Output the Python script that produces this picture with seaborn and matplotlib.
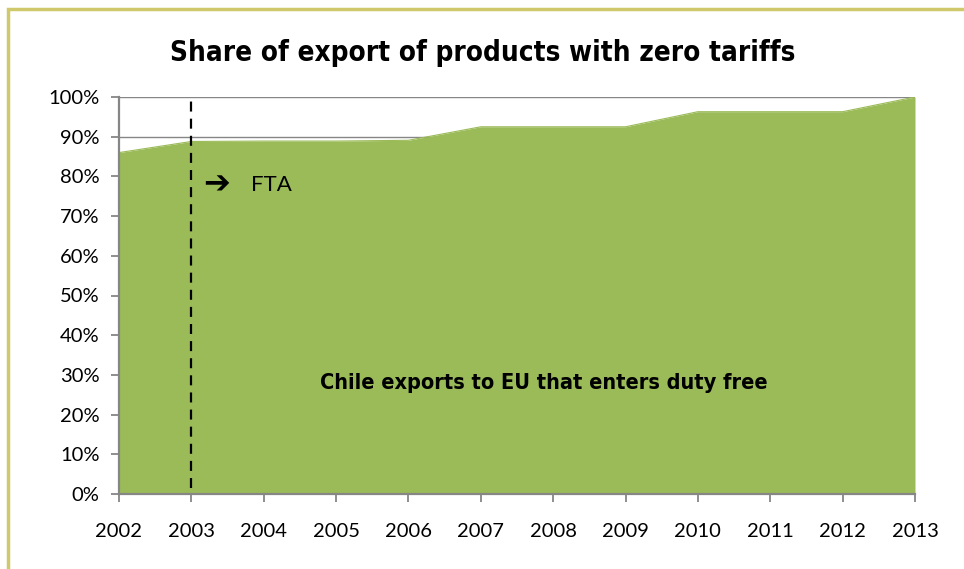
import matplotlib
matplotlib.use("Agg")
import matplotlib.pyplot as plt
import matplotlib.patches as mpatches
import seaborn as sns
import pandas as pd

# Share of Chilean exports to the EU entering with zero tariffs
years = [2002, 2003, 2004, 2005, 2006, 2007, 2008, 2009, 2010, 2011, 2012, 2013]
share = [0.860, 0.888, 0.889, 0.889, 0.891, 0.925, 0.925, 0.925, 0.963, 0.963, 0.963, 1.000]
y_ticks = [0.0, 0.1, 0.2, 0.3, 0.4, 0.5, 0.6, 0.7, 0.8, 0.9, 1.0]
y_labels = ["0%", "10%", "20%", "30%", "40%", "50%", "60%", "70%", "80%", "90%", "100%"]
fta_year = 2003

title = "Share of export of products with zero tariffs"
area_label = "Chile exports to EU that enters duty free"
fta_label = "FTA"

df = pd.DataFrame({"year": years, "share": share})

sns.set_theme(style="white")
plt.rcParams["font.family"] = ["Lato", "DejaVu Sans"]

GREEN = "#9bbb59"
GRID = "#868686"

fig = plt.figure(figsize=(9.64, 5.69), dpi=100)
ax = fig.add_axes([119 / 964, 1 - 494 / 569, (915 - 119) / 964, (494 - 97) / 569])

# gridlines sit behind the filled area
for t in y_ticks:
    ax.axhline(t, color=GRID, lw=1.0, zorder=0)

sns.lineplot(data=df, x="year", y="share", ax=ax, color=GREEN, lw=0.8, zorder=2)
ax.fill_between(df["year"], 0, df["share"], color=GREEN, lw=0, zorder=2)

ax.axvline(fta_year, ymin=0.015, ymax=0.993, color="black", lw=1.6,
           ls=(0, (4.5, 3.2)), zorder=3)

ax.set_xlim(years[0], years[-1])
ax.set_ylim(0, 1.0)
ax.set_xticks(years)
ax.set_xticklabels([str(y) for y in years])
ax.set_yticks(y_ticks)
ax.set_yticklabels(y_labels)
ax.set_xlabel("")
ax.set_ylabel("")

for s in ["top", "right"]:
    ax.spines[s].set_visible(False)
for s in ["left", "bottom"]:
    ax.spines[s].set_color(GRID)
    ax.spines[s].set_linewidth(1.6)
    ax.spines[s].set_zorder(4)

ax.tick_params(axis="y", which="major", direction="out", length=6, width=1.3,
               color=GRID, labelsize=14.5, labelcolor="black", pad=8, left=True)
ax.tick_params(axis="x", which="major", direction="out", length=6, width=1.3,
               color=GRID, labelsize=14.5, labelcolor="black", pad=15, bottom=True)

cond = dict(family="DejaVu Sans", fontstretch="condensed", fontweight="bold",
            color="black")
fig.text(483 / 964, 1 - 53 / 569, title, ha="center", va="center", fontsize=20, **cond)
ax.text(2007.87, 0.28, area_label, ha="center", va="center", fontsize=15.6, **cond)

ax.text(2003.17, 0.778, "\u2794", ha="left", va="center", fontsize=23,
        fontweight="bold", family=["DejaVu Sans"], color="black")
ax.text(2003.83, 0.778, fta_label, ha="left", va="center", fontsize=16,
        color="black")

# frame around the chart
fig.add_artist(mpatches.Rectangle((8 / 964, -0.05), 1.2, 1 - 9 / 569 + 0.05,
                                  transform=fig.transFigure, fill=False,
                                  edgecolor="#cfc96c", lw=2.5))

fig.savefig("out.png", dpi=100)
